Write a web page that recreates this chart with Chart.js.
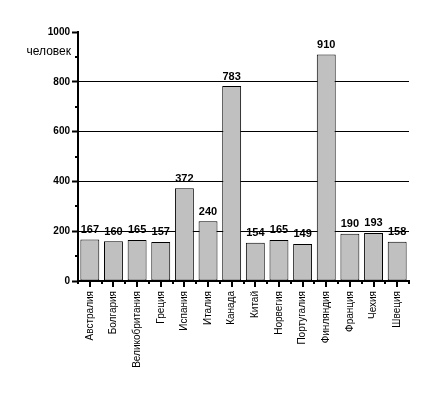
<!DOCTYPE html>
<html>
<head>
<meta charset="utf-8">
<script src="https://cdn.jsdelivr.net/npm/chart.js@4/dist/chart.umd.min.js"></script>
<style>
  html, body { margin: 0; padding: 0; background: #fff; }
  #wrap { width: 432px; height: 395px; }
</style>
</head>
<body>
<div id="wrap"><canvas id="chart" width="432" height="395"></canvas></div>
<script>
const countries = ["Австралия", "Болгария", "Великобритания", "Греция", "Испания", "Италия", "Канада",
  "Китай", "Норвегия", "Португалия", "Финляндия", "Франция", "Чехия", "Швеция"];
const people = [167, 160, 165, 157, 372, 240, 783, 154, 165, 149, 910, 190, 193, 158];
const yTicks = [0, 200, 400, 600, 800, 1000];
const yMinorTicks = [100, 300, 500, 700, 900];
const unitLabel = "человек";

const ctx = document.getElementById("chart");

// value labels, unit text and the little axis ticks
const extras = {
  id: "extras",
  afterDatasetsDraw(chart) {
    const c = chart.ctx;
    const meta = chart.getDatasetMeta(0);
    c.save();
    c.fillStyle = "#000";
    c.font = "bold 11px Arial";
    c.textAlign = "center";
    c.textBaseline = "bottom";
    meta.data.forEach((bar, i) => {
      c.fillText(people[i], bar.x, bar.y - 4);
    });
    c.restore();
  },
  afterDraw(chart) {
    const c = chart.ctx;
    const x = chart.scales.x;
    const y = chart.scales.y;
    c.save();
    c.strokeStyle = "#000";
    c.lineWidth = 2;
    // y minor ticks
    yMinorTicks.forEach((v) => {
      const py = Math.round(y.getPixelForValue(v));
      c.beginPath();
      c.moveTo(y.right - 3, py);
      c.lineTo(y.right, py);
      c.stroke();
    });
    // x ticks: long at centres, short at boundaries
    const n = countries.length;
    const step = (x.right - x.left) / n;
    for (let i = 0; i <= n; i++) {
      const bx = Math.round(x.left + i * step);
      c.beginPath();
      c.moveTo(bx, x.top);
      c.lineTo(bx, x.top + 3);
      c.stroke();
    }
    for (let i = 0; i < n; i++) {
      const cx = Math.round(x.getPixelForValue(i));
      c.beginPath();
      c.moveTo(cx, x.top);
      c.lineTo(cx, x.top + 6);
      c.stroke();
    }
    // unit label
    c.fillStyle = "#000";
    c.font = "12px Arial";
    c.textAlign = "right";
    c.textBaseline = "middle";
    c.fillText(unitLabel, y.right - 7, y.getPixelForValue(920));
    c.restore();
  },
};

new Chart(ctx, {
  type: "bar",
  data: {
    labels: countries,
    datasets: [
      {
        data: people,
        backgroundColor: "#c0c0c0",
        borderColor: "#000",
        borderWidth: 1,
        borderSkipped: false,
        barPercentage: 0.8,
        categoryPercentage: 1,
      },
    ],
  },
  options: {
    responsive: false,
    animation: false,
    layout: { padding: { top: 32, right: 23, left: 0, bottom: 0 } },
    plugins: {
      legend: { display: false },
      tooltip: { enabled: false },
    },
    scales: {
      x: {
        grid: { display: false, drawTicks: false },
        border: { color: "#000", width: 2 },
        ticks: {
          color: "#000",
          font: { family: "Arial", size: 10 },
          maxRotation: 90,
          minRotation: 90,
          padding: 10,
          autoSkip: false,
        },
        afterFit(scale) {
          scale.height = 114;
        },
      },
      y: {
        min: 0,
        max: 1000,
        afterBuildTicks(scale) {
          scale.ticks = yTicks.map((v) => ({ value: v }));
        },
        grid: {
          color: (c) => (c.tick && (c.tick.value === 1000 || c.tick.value === 0) ? "rgba(0,0,0,0)" : "#000"),
          tickColor: "#000",
          tickLength: 6,
          tickWidth: 2,
          lineWidth: 1,
        },
        border: { color: "#000", width: 2 },
        ticks: {
          color: "#000",
          font: { family: "Arial", size: 10, weight: "bold" },
          padding: 2,
          callback: (v) => String(v),
        },
        afterFit(scale) {
          scale.width = 78;
        },
      },
    },
  },
  plugins: [extras],
});
</script>
</body>
</html>
